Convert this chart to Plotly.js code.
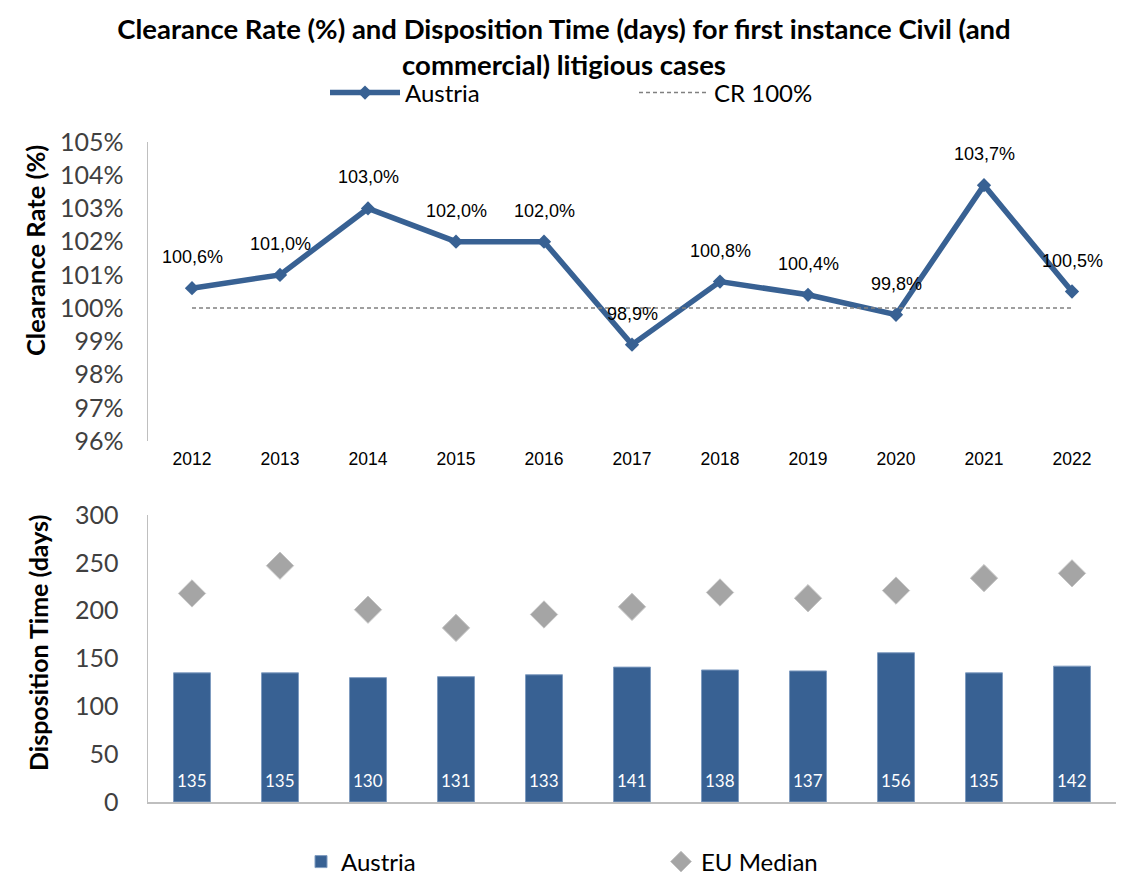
<!DOCTYPE html>
<html><head><meta charset="utf-8">
<script src="https://cdn.plot.ly/plotly-3.0.1.min.js"></script>
<style>html,body{margin:0;padding:0;background:#fff}#chart{width:1128px;height:876px}</style>
</head><body><div id="chart"></div>
<script>
const years = ['2012','2013','2014','2015','2016','2017','2018','2019','2020','2021','2022'];
const clearanceRate = [100.6, 101.0, 103.0, 102.0, 102.0, 98.9, 100.8, 100.4, 99.8, 103.7, 100.5];
const crTarget = [100, 100, 100, 100, 100, 100, 100, 100, 100, 100, 100];
const dispositionTime = [135, 135, 130, 131, 133, 141, 138, 137, 156, 135, 142];
const euMedian = [218, 247, 201, 182, 196, 204, 219, 213, 221, 234, 239];
const crTicks = [96, 97, 98, 99, 100, 101, 102, 103, 104, 105];
const dtTicks = [0, 50, 100, 150, 200, 250, 300];

const BLUE = '#386193';
const CAL = 'Lato, "Open Sans", sans-serif';
const ARIAL = 'Arial, "Liberation Sans", sans-serif';
const H = 876, W = 1128;
const px = v => v / W, py = v => 1 - v / H;

const traces = [
  {x: years, y: clearanceRate, type: 'scatter', mode: 'lines+markers', name: 'Austria',
   xaxis: 'x', yaxis: 'y', legend: 'legend',
   line: {color: BLUE, width: 5.5}, marker: {symbol: 'diamond', size: 11, color: BLUE}},
  {x: years, y: crTarget, type: 'scatter', mode: 'lines', name: 'CR 100%',
   xaxis: 'x', yaxis: 'y', legend: 'legend',
   line: {color: '#808080', width: 1.5, dash: '4px,3px'}},
  {x: years, y: dispositionTime, type: 'bar', name: 'Austria',
   xaxis: 'x2', yaxis: 'y2', legend: 'legend2',
   marker: {color: BLUE, line: {color: '#7f9cc0', width: 1}}, width: 0.42},
  {x: years, y: euMedian, type: 'scatter', mode: 'markers', name: 'EU Median',
   xaxis: 'x2', yaxis: 'y2', legend: 'legend2',
   marker: {symbol: 'diamond', size: 21, color: '#a5a5a5', line: {color: '#c4c4c4', width: 1}}}
];

const annotations = [];
clearanceRate.forEach((v, i) => {
  annotations.push({x: i, y: v, xref: 'x', yref: 'y', showarrow: false,
    xanchor: 'center', yanchor: 'middle',
    text: v.toFixed(1).replace('.', ',') + '%', yshift: 31,
    font: {family: ARIAL, size: 18, color: '#000'}});
});
dispositionTime.forEach((v, i) => {
  annotations.push({x: i, y: 0, xref: 'x2', yref: 'y2', showarrow: false,
    xanchor: 'center', yanchor: 'middle',
    text: String(v), yshift: 22,
    font: {family: CAL, size: 17, color: '#fff'}});
});
annotations.push({xref: 'paper', yref: 'paper', x: px(35), y: py(251), showarrow: false,
  xanchor: 'center', yanchor: 'middle',
  text: '<b>Clearance Rate (%)</b>', textangle: -90,
  font: {family: CAL, size: 25.5, color: '#000'}});
annotations.push({xref: 'paper', yref: 'paper', x: px(38), y: py(643), showarrow: false,
  xanchor: 'center', yanchor: 'middle',
  text: '<b>Disposition Time (days)</b>', textangle: -90,
  font: {family: CAL, size: 25, color: '#000'}});

const layout = {
  width: W, height: H,
  margin: {l: 0, r: 0, t: 0, b: 0, autoexpand: false},
  paper_bgcolor: '#fff', plot_bgcolor: '#fff',
  title: {text: '<b>Clearance Rate (%) and Disposition Time (days) for first instance Civil (and<br>commercial) litigious cases</b>',
    font: {family: CAL, size: 27.5, color: '#000'}, x: 0.5, xanchor: 'center',
    yref: 'container', y: 1 - 39 / H, yanchor: 'top'},
  xaxis: {domain: [px(148), px(1116)], anchor: 'y', type: 'category', range: [-0.5, 10.5],
    showline: false, showgrid: false, zeroline: false, ticks: '',
    tickfont: {family: ARIAL, size: 17.5, color: '#000'}, ticklabelstandoff: 5},
  yaxis: {domain: [py(441), py(142)], anchor: 'x', range: [96, 105], tickvals: crTicks,
    ticktext: crTicks.map(t => t + '%'),
    showline: true, linecolor: '#bfbfbf', linewidth: 1.5, showgrid: false, zeroline: false, ticks: '',
    tickfont: {family: CAL, size: 25, color: '#404040'}, ticklabelstandoff: 18},
  xaxis2: {domain: [px(148), px(1116)], anchor: 'y2', type: 'category', range: [-0.5, 10.5],
    showline: true, linecolor: '#bfbfbf', linewidth: 2, showgrid: false, zeroline: false,
    ticks: '', showticklabels: false},
  yaxis2: {domain: [py(802), py(515)], anchor: 'x2', range: [0, 300], tickvals: dtTicks,
    showline: true, linecolor: '#bfbfbf', linewidth: 1.5, showgrid: false, zeroline: false, ticks: '',
    tickfont: {family: CAL, size: 25, color: '#404040'}, ticklabelstandoff: 23},
  showlegend: true,
  legend: {orientation: 'h', x: px(325), xanchor: 'left', y: py(93), yanchor: 'middle',
    itemwidth: 70,
    font: {family: CAL, size: 24, color: '#000'}, entrywidth: 224, entrywidthmode: 'pixels',
    bgcolor: 'rgba(0,0,0,0)'},
  legend2: {orientation: 'h', x: px(301), xanchor: 'left', y: py(862), yanchor: 'middle',
    font: {family: CAL, size: 24, color: '#000'}, entrywidth: 315, entrywidthmode: 'pixels',
    bgcolor: 'rgba(0,0,0,0)'},
  annotations: annotations
};

Plotly.newPlot('chart', traces, layout, {displayModeBar: false, staticPlot: true});
</script>
</body></html>
